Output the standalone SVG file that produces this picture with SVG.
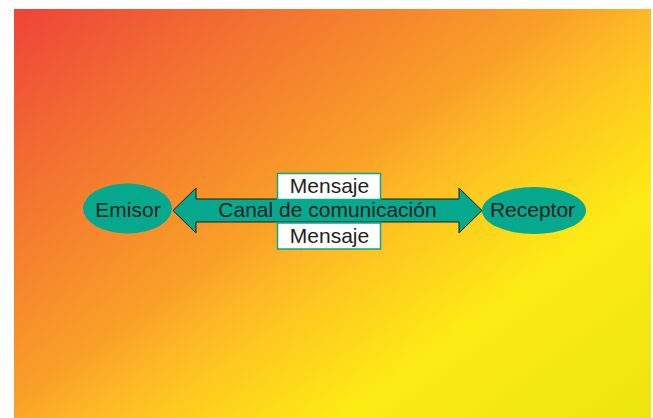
<svg xmlns="http://www.w3.org/2000/svg" width="653" height="418" viewBox="0 0 653 418">
<style>
text{font-family:"Liberation Sans",Arial,sans-serif;font-size:21px;fill:#231F20;text-anchor:middle}
.node{fill:#06A88E}
.box{fill:#ffffff;stroke:#06A88E;stroke-width:1.5}
</style>
<defs>
<linearGradient id="bg" gradientUnits="userSpaceOnUse" x1="14" y1="9" x2="423" y2="581">
<stop offset="0" stop-color="#EE4339"/>
<stop offset="0.176" stop-color="#F26A32"/>
<stop offset="0.454" stop-color="#F9A027"/>
<stop offset="0.52" stop-color="#FDB526"/>
<stop offset="0.593" stop-color="#FDC91F"/>
<stop offset="0.743" stop-color="#FDEB14"/>
<stop offset="1" stop-color="#ECE50F"/>
</linearGradient>
</defs>
<rect x="0" y="0" width="653" height="418" fill="#ffffff"/>
<rect x="14" y="9" width="637" height="409" fill="url(#bg)"/>
<g id="connectors">
<polygon points="173,210.5 196,188 196,199 459,199 459,188 482,210.5 459,233 459,222 196,222 196,233" fill="#06A88E" stroke="#1a1a1a" stroke-width="1"/>
<text x="327.5" y="217">Canal de comunicación</text>
</g>
<g id="emisor">
<ellipse class="node" cx="127.5" cy="208.5" rx="44.5" ry="25"/>
<text x="128" y="217">Emisor</text>
</g>
<g id="receptor">
<ellipse class="node" cx="534" cy="210.5" rx="52" ry="23.5"/>
<text x="532.5" y="217">Receptor</text>
</g>
<g id="mensaje-top">
<rect class="box" x="277.5" y="173.5" width="103" height="26"/>
<text x="329.5" y="193">Mensaje</text>
</g>
<g id="mensaje-bottom">
<rect class="box" x="277.5" y="223" width="103" height="26"/>
<text x="329.5" y="243">Mensaje</text>
</g>
</svg>
